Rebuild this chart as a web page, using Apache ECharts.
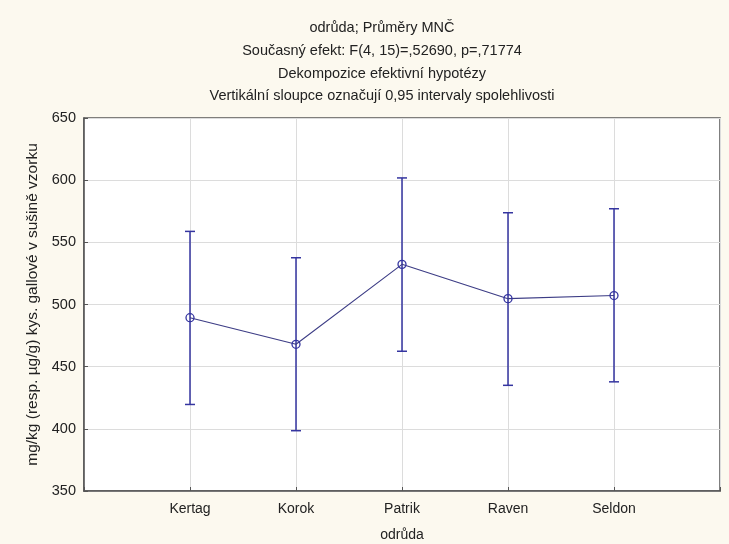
<!DOCTYPE html>
<html>
<head>
<meta charset="utf-8">
<script src="https://cdn.jsdelivr.net/npm/echarts@6/dist/echarts.min.js"></script>
<style>
  html, body { margin: 0; padding: 0; background: #fcf9ef; }
  #chart { width: 729px; height: 544px; }
</style>
</head>
<body>
<div id="chart"></div>
<script>
// Varieties and their least-squares means with 0.95 confidence limits
const categories = ['Kertag', 'Korok', 'Patrik', 'Raven', 'Seldon'];
const means = [489.4, 468.0, 532.3, 504.7, 507.2];
const lowerBounds = [419.6, 398.5, 462.4, 435.0, 437.8];
const upperBounds = [558.8, 537.6, 601.8, 573.8, 577.0];
const yTicks = [350, 400, 450, 500, 550, 600, 650];

const titleLines = [
  'odrůda; Průměry MNČ',
  'Současný efekt: F(4, 15)=,52690, p=,71774',
  'Dekompozice efektivní hypotézy',
  'Vertikální sloupce označují 0,95 intervaly spolehlivosti'
];

const barColor = '#3535a0';
const lineColor = '#3c3c85';
const font = 'Liberation Sans, Arial, sans-serif';

const meanPoints = means.map((m, i) => [i + 1, m]);
const intervals = categories.map((c, i) => [i + 1, lowerBounds[i], upperBounds[i]]);

const chart = echarts.init(document.getElementById('chart'));
chart.setOption({
  backgroundColor: '#fcf9ef',
  animation: false,
  title: {
    text: titleLines.join('\n'),
    left: 377,
    top: 12,
    textAlign: 'center',
    textStyle: {
      fontFamily: font,
      fontSize: 14.5,
      fontWeight: 'normal',
      color: '#222',
      lineHeight: 22.7
    }
  },
  grid: {
    left: 84, right: 9, top: 118, bottom: 53,
    outerBoundsMode: 'none',
    containLabel: false,
    show: true,
    backgroundColor: '#ffffff',
    borderColor: '#555555',
    borderWidth: 1.5
  },
  xAxis: {
    type: 'value',
    min: 0, max: 6, interval: 1,
    name: 'odrůda',
    nameLocation: 'middle',
    nameGap: 37,
    nameTextStyle: { fontFamily: font, fontSize: 14, color: '#222' },
    axisLine: { show: true, lineStyle: { color: '#555', width: 1.5 } },
    axisTick: { show: true, inside: true, length: 4, lineStyle: { color: '#555' } },
    axisLabel: {
      fontFamily: font, fontSize: 14, color: '#222', margin: 11,
      formatter: v => categories[v - 1] || ''
    },
    splitLine: { show: true, lineStyle: { color: '#dcdcdc', width: 1 } }
  },
  yAxis: {
    type: 'value',
    min: yTicks[0], max: yTicks[yTicks.length - 1], interval: 50,
    name: 'mg/kg (resp. µg/g) kys. gallové v sušině vzorku',
    nameLocation: 'middle',
    nameGap: 43,
    nameTextStyle: { fontFamily: font, fontSize: 15.5, color: '#222' },
    axisLine: { show: true, lineStyle: { color: '#555', width: 1.5 } },
    axisTick: { show: true, inside: true, length: 4, lineStyle: { color: '#555' } },
    axisLabel: { fontFamily: font, fontSize: 14.5, color: '#222', margin: 8 },
    splitLine: { show: true, lineStyle: { color: '#dcdcdc', width: 1 } }
  },
  series: [
    {
      type: 'custom',
      data: intervals,
      z: 2,
      renderItem: function (params, api) {
        const x = api.value(0);
        const lo = api.coord([x, api.value(1)]);
        const hi = api.coord([x, api.value(2)]);
        const cap = 5;
        const style = { stroke: barColor, lineWidth: 1.5, fill: null };
        return {
          type: 'group',
          children: [
            { type: 'line', shape: { x1: lo[0], y1: lo[1], x2: hi[0], y2: hi[1] }, style },
            { type: 'line', shape: { x1: hi[0] - cap, y1: hi[1], x2: hi[0] + cap, y2: hi[1] }, style },
            { type: 'line', shape: { x1: lo[0] - cap, y1: lo[1], x2: lo[0] + cap, y2: lo[1] }, style }
          ]
        };
      }
    },
    {
      type: 'line',
      data: meanPoints,
      z: 3,
      symbol: 'circle',
      symbolSize: 8,
      lineStyle: { color: lineColor, width: 1.1 },
      itemStyle: { color: 'rgba(255,255,255,0)', borderColor: barColor, borderWidth: 1.3 }
    }
  ]
});
</script>
</body>
</html>
